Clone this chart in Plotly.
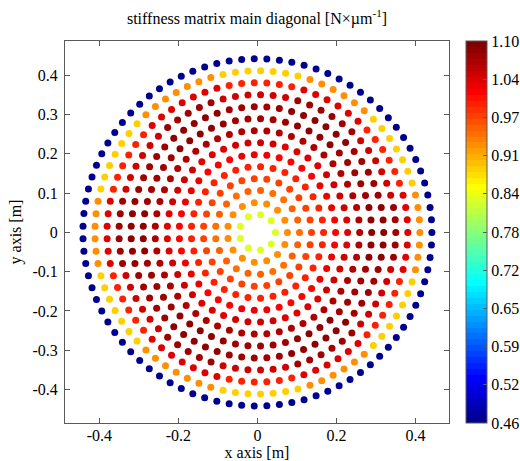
import numpy as np
import plotly.graph_objects as go

# Ring layout of the nodes on the disc (radius in metres, nodes per ring)
ring_radius_m = [0.0457, 0.0761, 0.1066, 0.1370, 0.1675, 0.1980, 0.2284,
                 0.2589, 0.2893, 0.3198, 0.3503, 0.3807, 0.4112, 0.4417]
ring_points = [9, 15, 21, 27, 33, 39, 45, 51, 57, 63, 69, 75, 81, 87]

# Main-diagonal stiffness per ring [N/um]: along the 0/60/120... deg spokes
# and along the 30/90/150... deg directions between them
stiffness_spoke = [0.832, 0.930, 0.950, 0.972, 0.992, 1.015, 1.035,
                   1.060, 1.080, 1.085, 1.070, 1.030, 0.925, 0.465]
stiffness_gap = [0.832, 0.925, 0.952, 0.978, 1.000, 1.020, 1.040,
                 1.065, 1.078, 1.072, 1.045, 1.000, 0.885, 0.465]

x_ticks = [-0.4, -0.2, 0.0, 0.2, 0.4]
x_ticktext = ["-0.4", "-0.2", "0", "0.2", "0.4"]
y_ticks = [-0.4, -0.3, -0.2, -0.1, 0.0, 0.1, 0.2, 0.3, 0.4]
y_ticktext = ["-0.4", "-0.3", "-0.2", "-0.1", "0", "0.1", "0.2", "0.3", "0.4"]

c_min, c_max = 0.46, 1.10
cbar_ticks = list(np.linspace(c_min, c_max, 11))
cbar_ticktext = ["0.46", "0.52", "0.59", "0.65", "0.72", "0.78",
                 "0.84", "0.91", "0.97", "1.04", "1.10"]


def jet(m=64):
    """MATLAB-style jet colormap with m entries."""
    n = int(np.ceil(m / 4))
    u = np.concatenate([np.arange(1, n + 1) / n, np.ones(n - 1), np.arange(n, 0, -1) / n])
    g = int(np.ceil(n / 2)) - (1 if m % 4 == 1 else 0) + np.arange(1, len(u) + 1)
    r = g + n
    b = g - n
    cmap = np.zeros((m, 3))
    for col, idx in ((0, r), (1, g), (2, b)):
        ok = (idx >= 1) & (idx <= m)
        cmap[idx[ok] - 1, col] = u[ok]
    return cmap


cmap = jet(64)
colorscale = []
for i, (rr, gg, bb) in enumerate(cmap):
    c = f"rgb({int(round(rr * 255))},{int(round(gg * 255))},{int(round(bb * 255))})"
    colorscale.append([i / 64, c])
    colorscale.append([(i + 1) / 64, c])

# Node coordinates and values
xs, ys, vals = [], [], []
for r, n, vs, vg in zip(ring_radius_m, ring_points, stiffness_spoke, stiffness_gap):
    for j in range(n):
        th = 2 * np.pi * j / n
        phase = np.degrees(th) % 60.0
        xs.append(r * np.cos(th))
        ys.append(r * np.sin(th))
        vals.append(vs if (phase < 15 or phase >= 45) else vg)

font_family = "Liberation Serif"
axis_color = "rgb(90,90,90)"
fs = 16

fig = go.Figure(
    go.Scatter(
        x=xs, y=ys, mode="markers",
        marker=dict(
            size=7, color=vals, colorscale=colorscale, cmin=c_min, cmax=c_max,
            line=dict(width=0),
            colorbar=dict(
                x=1.044, xanchor="left", xref="paper",
                y=0.5, yanchor="middle", len=1.0, lenmode="fraction",
                thickness=21, outlinewidth=1, outlinecolor=axis_color,
                tickvals=cbar_ticks, ticktext=cbar_ticktext,
                ticks="inside", ticklen=4, tickcolor=axis_color,
                tickfont=dict(family=font_family, size=fs, color="black"),
                ypad=0, xpad=0,
            ),
        ),
        hoverinfo="skip",
    )
)

fig.update_layout(
    width=520, height=461,
    margin=dict(l=65, r=71, t=41, b=38, autoexpand=False),
    paper_bgcolor="white", plot_bgcolor="white",
    showlegend=False,
    font=dict(family=font_family, size=fs, color="black"),
    title=dict(
        text="stiffness matrix main diagonal [N×µm<sup>-1</sup>]",
        x=0.5, xref="paper", xanchor="center",
        y=1 - 18 / 461, yref="container", yanchor="middle",
        font=dict(family=font_family, size=fs, color="black"),
    ),
)

axis_common = dict(
    showgrid=False, zeroline=False, showline=True, linecolor=axis_color, linewidth=1,
    mirror="ticks", ticks="inside", ticklen=5, tickcolor=axis_color,
    tickfont=dict(family=font_family, size=fs, color="black"),
    automargin=False,
)
fig.update_xaxes(
    range=[-0.487, 0.485], tickvals=x_ticks, ticktext=x_ticktext,
    title=dict(text="x axis [m]", standoff=2, font=dict(family=font_family, size=fs)),
    ticklabelstandoff=-2,
    **axis_common,
)
fig.update_yaxes(
    range=[-0.485, 0.487], tickvals=y_ticks, ticktext=y_ticktext,
    title=dict(text="y axis [m]", standoff=6, font=dict(family=font_family, size=fs)),
    ticklabelstandoff=3,
    **axis_common,
)

fig.write_html("out.html")
